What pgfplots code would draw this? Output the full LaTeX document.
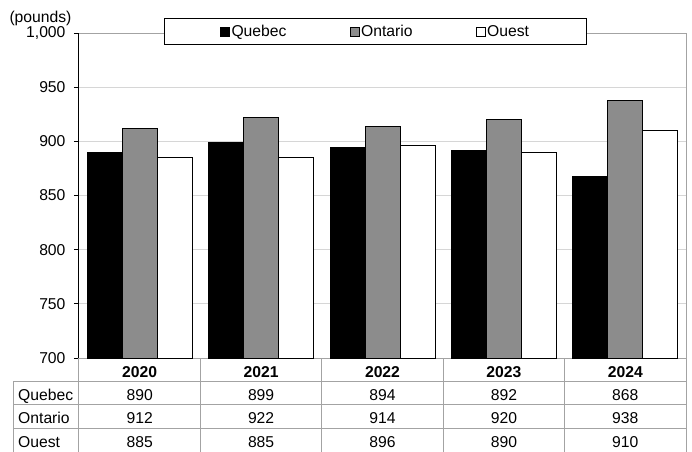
\documentclass[border=0pt]{standalone}
\usepackage{fontspec}
\setmainfont{Liberation Sans}
\usepackage{pgfplots}
\pgfplotsset{compat=1.18}
\definecolor{ontgray}{HTML}{8C8C8C}
\definecolor{gridgray}{HTML}{D6D6D6}
\definecolor{bordergray}{HTML}{A3A3A3}
\newcommand{\fs}{\fontsize{15.7}{18}\selectfont}

\begin{document}
\begin{tikzpicture}[font=\fs]
\useasboundingbox (-79pt,-93pt) rectangle (613pt,358pt);
\begin{axis}[
  at={(0pt,0pt)}, anchor=south west,
  scale only axis, width=607pt, height=325pt,
  clip=false,
  ymin=700, ymax=1000, ytick={700,750,...,1000},
  xmin=-0.5, xmax=4.5,
  xtick=\empty,
  minor xtick={0.5,1.5,2.5,3.5},
  xminorgrids, ymajorgrids,
  grid style={gridgray, line width=1pt},
  minor tick length=0pt,
  axis line style={bordergray, line width=1pt},
  ytick pos=left,
  tick align=outside,
  major tick length=5pt,
  ytick style={black, line width=0.8pt},
  y tick label style={font=\fs, xshift=-5pt},
  /pgf/number format/assume math mode=true,
  /pgf/number format/1000 sep={,},
  ybar=0pt,
  bar width=35pt,
  legend columns=3,
  legend style={at={(0.4885,1.0046)}, anchor=center, draw=black, line width=0.8pt, fill=white,
    inner xsep=56pt, inner ysep=3.5pt, font=\fs,
    nodes={inner xsep=1.5pt, inner ysep=3pt},
    /tikz/every even column/.append style={column sep=62pt}},
  legend image code/.code={\draw[#1, line width=0.6pt] (0pt,-4.5pt) rectangle (9pt,4.5pt);},
]
\addplot[fill=black, draw=black, line width=0.8pt] coordinates {(0,890) (1,899) (2,894) (3,892) (4,868)};
\addplot[fill=ontgray, draw=black, line width=0.8pt] coordinates {(0,912) (1,922) (2,914) (3,920) (4,938)};
\addplot[fill=white, draw=black, line width=0.8pt] coordinates {(0,885) (1,885) (2,896) (3,890) (4,910)};
\legend{Quebec,Ontario,Ouest}
% left spine
\draw[black, line width=1pt] (rel axis cs:0,0) -- (rel axis cs:0,1);
% table lines
\draw[bordergray, line width=1pt] ([xshift=-65pt, yshift=-23.3pt]axis cs:-0.5,700) -- ([yshift=-23.3pt]axis cs:4.5,700);
\draw[bordergray, line width=1pt] ([xshift=-65pt, yshift=-46.7pt]axis cs:-0.5,700) -- ([yshift=-46.7pt]axis cs:4.5,700);
\draw[bordergray, line width=1pt] ([xshift=-65pt, yshift=-70pt]axis cs:-0.5,700) -- ([yshift=-70pt]axis cs:4.5,700);
\draw[bordergray, line width=1pt] ([xshift=-65pt, yshift=-23.3pt]axis cs:-0.5,700) -- ([xshift=-65pt, yshift=-95pt]axis cs:-0.5,700);
\pgfplotsinvokeforeach{-0.5,0.5,1.5,2.5,3.5,4.5}{
  \draw[bordergray, line width=1pt] (axis cs:#1,700) -- ([yshift=-95pt]axis cs:#1,700);
}
% row labels
\node[anchor=base west, inner sep=0pt] at ([xshift=-61pt, yshift=-42pt]axis cs:-0.5,700) {Quebec};
\node[anchor=base west, inner sep=0pt] at ([xshift=-61pt, yshift=-65.5pt]axis cs:-0.5,700) {Ontario};
\node[anchor=base west, inner sep=0pt] at ([xshift=-61pt, yshift=-89pt]axis cs:-0.5,700) {Ouest};
% year row
\node[anchor=base, inner sep=0pt, font=\fs\bfseries] at ([yshift=-19pt]axis cs:0,700) {2020};
\node[anchor=base, inner sep=0pt, font=\fs\bfseries] at ([yshift=-19pt]axis cs:1,700) {2021};
\node[anchor=base, inner sep=0pt, font=\fs\bfseries] at ([yshift=-19pt]axis cs:2,700) {2022};
\node[anchor=base, inner sep=0pt, font=\fs\bfseries] at ([yshift=-19pt]axis cs:3,700) {2023};
\node[anchor=base, inner sep=0pt, font=\fs\bfseries] at ([yshift=-19pt]axis cs:4,700) {2024};
% Quebec row
\node[anchor=base, inner sep=0pt] at ([yshift=-42pt]axis cs:0,700) {890};
\node[anchor=base, inner sep=0pt] at ([yshift=-42pt]axis cs:1,700) {899};
\node[anchor=base, inner sep=0pt] at ([yshift=-42pt]axis cs:2,700) {894};
\node[anchor=base, inner sep=0pt] at ([yshift=-42pt]axis cs:3,700) {892};
\node[anchor=base, inner sep=0pt] at ([yshift=-42pt]axis cs:4,700) {868};
% Ontario row
\node[anchor=base, inner sep=0pt] at ([yshift=-65.5pt]axis cs:0,700) {912};
\node[anchor=base, inner sep=0pt] at ([yshift=-65.5pt]axis cs:1,700) {922};
\node[anchor=base, inner sep=0pt] at ([yshift=-65.5pt]axis cs:2,700) {914};
\node[anchor=base, inner sep=0pt] at ([yshift=-65.5pt]axis cs:3,700) {920};
\node[anchor=base, inner sep=0pt] at ([yshift=-65.5pt]axis cs:4,700) {938};
% Ouest row
\node[anchor=base, inner sep=0pt] at ([yshift=-89pt]axis cs:0,700) {885};
\node[anchor=base, inner sep=0pt] at ([yshift=-89pt]axis cs:1,700) {885};
\node[anchor=base, inner sep=0pt] at ([yshift=-89pt]axis cs:2,700) {896};
\node[anchor=base, inner sep=0pt] at ([yshift=-89pt]axis cs:3,700) {890};
\node[anchor=base, inner sep=0pt] at ([yshift=-89pt]axis cs:4,700) {910};
% unit label
\node[anchor=base, inner sep=0pt] at ([xshift=-38.5pt, yshift=10.5pt]rel axis cs:0,1) {(pounds)};
\end{axis}
\end{tikzpicture}
\end{document}
